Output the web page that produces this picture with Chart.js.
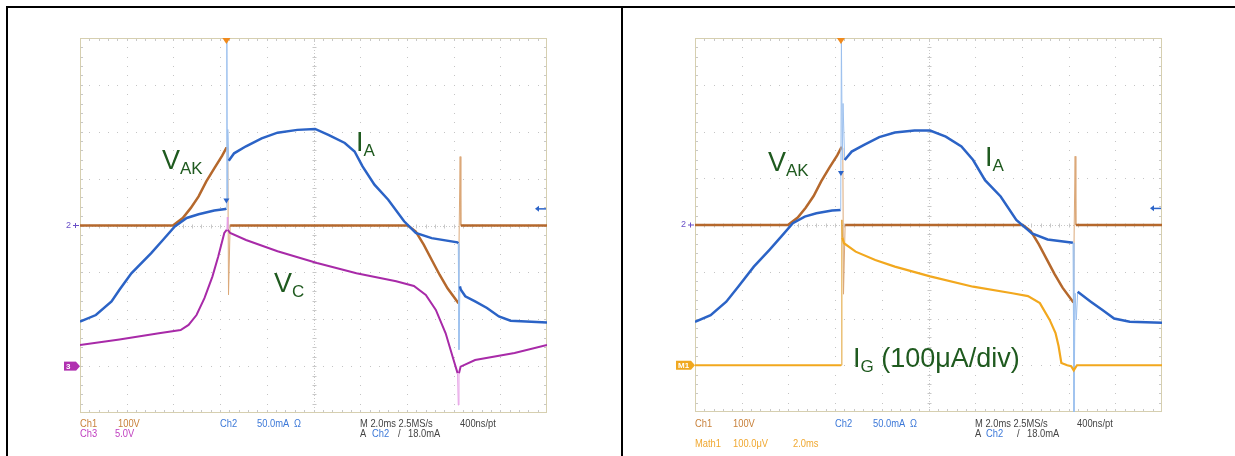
<!DOCTYPE html>
<html lang="en">
<head>
<meta charset="UTF-8">
<title>Thyristor waveforms</title>
<script src="https://cdn.jsdelivr.net/npm/chart.js"></script>
<style>
  body { margin:0; width:1235px; height:456px; position:relative; overflow:hidden; background:#fff;
         font-family:"Liberation Sans", Arial, sans-serif; }
  .rule { position:absolute; background:#000; }
  canvas { position:absolute; }
  .lbl { position:absolute; font-size:27px; line-height:27px; color:#1f5a1f; white-space:nowrap; }
  .lbl .sub { font-size:17px; position:relative; top:5px; }
  .ro { position:absolute; font-size:11px; line-height:11px; white-space:nowrap;
        transform:scaleX(0.85); transform-origin:left; color:#444; }
  .c1 { color:#c8803a; } .c2 { color:#3c78d8; } .c3 { color:#c040c0; } .m1 { color:#f0a830; }
</style>
</head>
<body>
<div class="rule" style="left:6px; top:6px; width:1229px; height:2px"></div>
<div class="rule" style="left:6px; top:6px; width:2px; height:450px"></div>
<div class="rule" style="left:621px; top:6px; width:2px; height:450px"></div>

<canvas id="scopeLeft" width="500" height="390" style="left:60px; top:30px"></canvas>
<canvas id="scopeRight" width="500" height="390" style="left:672px; top:30px"></canvas>

<!-- trace labels -->
<div class="lbl" style="left:162px; top:147px">V<span class="sub">AK</span></div>
<div class="lbl" style="left:356px; top:129px">I<span class="sub">A</span></div>
<div class="lbl" style="left:274px; top:270px">V<span class="sub">C</span></div>
<div class="lbl" style="left:768px; top:149px">V<span class="sub">AK</span></div>
<div class="lbl" style="left:985px; top:144px">I<span class="sub">A</span></div>
<div class="lbl" style="left:853px; top:345px">I<span class="sub">G</span> (100μA/div)</div>

<!-- scope readouts, left -->
<span class="ro c1" style="left:80px; top:418px">Ch1</span>
<span class="ro c1" style="left:118px; top:418px">100V</span>
<span class="ro c2" style="left:220px; top:418px">Ch2</span>
<span class="ro c2" style="left:257px; top:418px">50.0mA &nbsp;Ω</span>
<span class="ro" style="left:360px; top:418px">M 2.0ms 2.5MS/s</span>
<span class="ro" style="left:460px; top:418px">400ns/pt</span>
<span class="ro c3" style="left:80px; top:428px">Ch3</span>
<span class="ro c3" style="left:115px; top:428px">5.0V</span>
<span class="ro" style="left:360px; top:428px">A</span>
<span class="ro c2" style="left:372px; top:428px">Ch2</span>
<span class="ro" style="left:398px; top:428px">/</span>
<span class="ro" style="left:408px; top:428px">18.0mA</span>

<!-- scope readouts, right -->
<span class="ro c1" style="left:695px; top:418px">Ch1</span>
<span class="ro c1" style="left:733px; top:418px">100V</span>
<span class="ro c2" style="left:835px; top:418px">Ch2</span>
<span class="ro c2" style="left:873px; top:418px">50.0mA &nbsp;Ω</span>
<span class="ro" style="left:975px; top:418px">M 2.0ms 2.5MS/s</span>
<span class="ro" style="left:1077px; top:418px">400ns/pt</span>
<span class="ro" style="left:975px; top:428px">A</span>
<span class="ro c2" style="left:986px; top:428px">Ch2</span>
<span class="ro" style="left:1017px; top:428px">/</span>
<span class="ro" style="left:1027px; top:428px">18.0mA</span>
<span class="ro m1" style="left:695px; top:438px">Math1</span>
<span class="ro m1" style="left:733px; top:438px">100.0μV</span>
<span class="ro m1" style="left:793px; top:438px">2.0ms</span>

<script>
    // time in ms (2 ms/div, 10 div), amplitude in screen divisions from the centre line

    // Ch1  V_AK (same capture shape in both shots)
    const vakTime  = [0, 3.98, 4.40, 4.74, 5.08, 5.41, 5.75, 6.09, 6.26, 6.33, 6.36, 6.43,
                      14.04, 14.38, 14.72, 15.06, 15.40, 15.74, 16.21, 16.24, 16.28, 16.31, 16.36, 20];
    const vakLevel = [0, 0, 0.16, 0.37, 0.62, 0.94, 1.22, 1.49, 1.65, 1.65, -1.48, 0,
                      0, -0.13, -0.41, -0.73, -1.05, -1.34, -1.66, 0, 1.47, 0, 0, 0];

    // Ch2  I_A, left shot
    const iaTimeL  = [0, 0.68, 1.35, 1.69, 2.20, 3.05, 3.55, 4.06, 4.57, 5.08, 5.75, 6.23, 6.27, 6.29, 6.31,
                      6.33, 6.37, 6.60, 7.11, 7.78, 8.46, 9.31, 10.07, 10.66, 11.34, 11.76, 12.10, 12.61,
                      13.20, 13.88, 14.38, 15.06, 16.16, 16.20, 16.23, 16.27, 16.31, 16.50, 16.92, 17.43,
                      17.94, 18.44, 20];
    const iaLevelL = [-2.05, -1.91, -1.62, -1.37, -1.02, -0.59, -0.31, -0.02, 0.16, 0.24, 0.32, 0.35, 0.36, 3.96, 0.55,
                      2.05, 1.38, 1.54, 1.69, 1.86, 1.98, 2.04, 2.06, 1.93, 1.76, 1.58, 1.26, 0.87,
                      0.55, 0.09, -0.16, -0.27, -0.36, -0.38, -2.65, -1.30, -1.37, -1.51, -1.62, -1.76,
                      -1.94, -2.03, -2.07];

    // Ch2  I_A, right shot
    const iaTimeR  = [0, 0.67, 1.34, 1.85, 2.52, 3.19, 3.69, 4.19, 4.70, 5.20, 5.87, 6.24, 6.27, 6.31, 6.34,
                      6.41, 6.71, 7.22, 7.89, 8.56, 9.40, 10.07, 10.74, 11.41, 11.91, 12.42, 13.09, 13.76,
                      14.43, 15.10, 16.19, 16.23, 16.28, 16.33, 16.39, 16.95, 17.45, 17.95, 18.62, 20];
    const iaLevelR = [-2.07, -1.93, -1.64, -1.32, -0.89, -0.53, -0.25, 0.04, 0.18, 0.25, 0.31, 0.32, 4.0, 1.39, 2.60,
                      1.39, 1.57, 1.71, 1.88, 1.98, 2.02, 2.02, 1.89, 1.68, 1.39, 0.96, 0.61, 0.11,
                      -0.18, -0.31, -0.38, -4.0, -1.46, -2.03, -1.43, -1.64, -1.82, -2.0, -2.07, -2.09];

    // Ch3  V_C, left shot
    const vcTime  = [0, 1.69, 3.38, 4.31, 4.65, 4.99, 5.33, 5.67, 5.92, 6.18, 6.29, 6.31, 6.33, 6.43,
                     7.11, 8.46, 10.15, 11.84, 13.54, 14.30, 14.81, 15.24, 15.66, 16.00, 16.17, 16.20,
                     16.23, 16.30, 16.92, 18.61, 20];
    const vcLevel = [-2.55, -2.43, -2.30, -2.23, -2.12, -1.91, -1.55, -1.09, -0.66, -0.16, -0.09, 0.18, -0.09, -0.16,
                     -0.31, -0.55, -0.80, -1.02, -1.19, -1.29, -1.48, -1.80, -2.30, -2.87, -3.15, -3.83,
                     -3.15, -3.01, -2.87, -2.72, -2.55];

    // Math1  I_G, right shot
    const igTime  = [0, 6.26, 6.29, 6.31, 6.38, 6.88, 7.72, 8.56, 10.07, 11.91, 13.59, 14.26, 14.77,
                     15.19, 15.44, 15.57, 15.69, 15.94, 16.11, 16.22, 16.36, 20];
    const igLevel = [-3.0, -3.0, 0.11, -0.27, -0.39, -0.57, -0.75, -0.89, -1.10, -1.32, -1.46, -1.52, -1.67,
                     -2.03, -2.31, -2.59, -2.95, -3.0, -3.02, -3.11, -3.0, -3.0];

    function pts(t, v) {
        return t.map((x, i) => ({x: x, y: v[i]}));
    }

    // fast edges look faint and thin on the scope screen
    function trace(label, t, v, color, faint, width) {
        const steep = c => Math.abs(c.p1.parsed.x - c.p0.parsed.x) < 0.085 &&
                           Math.abs(c.p1.parsed.y - c.p0.parsed.y) > 0.25;
        return {
            label: label,
            data: pts(t, v),
            borderColor: color,
            borderWidth: width,
            pointRadius: 0,
            showLine: true,
            tension: 0,
            segment: {
                borderColor: c => steep(c) ? faint : undefined,
                borderWidth: c => steep(c) ? 1 : undefined
            }
        };
    }

    const graticule = {
        id: 'graticule',
        beforeDatasetsDraw(chart) {
            const {ctx, chartArea: a, scales: {x, y}} = chart;
            ctx.save();
            ctx.fillStyle = '#c4c4c4';
            for (let gx = 2; gx < 20; gx += 2) {
                if (gx === 10) continue;
                const px = Math.round(x.getPixelForValue(gx));
                for (let k = 1; k < 40; k++) ctx.fillRect(px, Math.round(y.getPixelForValue(-4 + k * 0.2)), 1, 1);
            }
            for (let gy = -3; gy <= 3; gy++) {
                if (gy === 0) continue;
                const py = Math.round(y.getPixelForValue(gy));
                for (let k = 1; k < 50; k++) ctx.fillRect(Math.round(x.getPixelForValue(k * 0.4)), py, 1, 1);
            }
            // centre lines with minor ticks
            ctx.strokeStyle = '#c8c8c8';
            ctx.lineWidth = 1;
            const cx = Math.round(x.getPixelForValue(10)) + 0.5;
            const cy = Math.round(y.getPixelForValue(0)) + 0.5;
            ctx.beginPath();
            for (let k = 1; k < 50; k++) {
                const px = Math.round(x.getPixelForValue(k * 0.4)) + 0.5;
                ctx.moveTo(px, cy - 2); ctx.lineTo(px, cy + 2);
                ctx.moveTo(px, a.bottom); ctx.lineTo(px, a.bottom - 3);
                ctx.moveTo(px, a.top); ctx.lineTo(px, a.top + 3);
            }
            for (let k = 1; k < 40; k++) {
                const py = Math.round(y.getPixelForValue(-4 + k * 0.2)) + 0.5;
                ctx.moveTo(cx - 2, py); ctx.lineTo(cx + 2, py);
                ctx.moveTo(a.left, py); ctx.lineTo(a.left + 3, py);
                ctx.moveTo(a.right, py); ctx.lineTo(a.right - 3, py);
            }
            ctx.stroke();
            ctx.setLineDash([1, 2]);
            ctx.beginPath();
            ctx.moveTo(cx, a.top); ctx.lineTo(cx, a.bottom);
            ctx.moveTo(a.left, cy); ctx.lineTo(a.right, cy);
            ctx.stroke();
            ctx.setLineDash([]);
            ctx.strokeStyle = '#d6cfb0';
            ctx.strokeRect(a.left + 0.5, a.top + 0.5, a.width - 1, a.height - 1);
            ctx.restore();
        }
    };

    const scopeMarks = {
        id: 'scopeMarks',
        afterDatasetsDraw(chart, args, o) {
            const {ctx, chartArea: a, scales: {x, y}} = chart;
            ctx.save();
            // Ch2 ground marker
            const y0 = y.getPixelForValue(0);
            ctx.fillStyle = '#6a50c8';
            ctx.font = '9px "Liberation Sans", Arial';
            ctx.textBaseline = 'middle';
            ctx.fillText('2', a.left - 14, y0);
            ctx.fillRect(a.left - 7, y0 - 0.5, 6, 1);
            ctx.fillRect(a.left - 5, y0 - 2.5, 1, 5);
            // channel tag
            const yt = y.getPixelForValue(o.tagLevel);
            ctx.fillStyle = o.tagColor;
            ctx.fillRect(a.left - o.tagWidth - 4, yt - 4.5, o.tagWidth, 9);
            ctx.beginPath();
            ctx.moveTo(a.left - 4, yt - 4.5); ctx.lineTo(a.left, yt); ctx.lineTo(a.left - 4, yt + 4.5);
            ctx.fill();
            ctx.fillStyle = '#fff';
            ctx.font = 'bold 8px "Liberation Sans", Arial';
            ctx.fillText(o.tagText, a.left - o.tagWidth - 2, yt + 0.5);
            // trigger position
            const tx = x.getPixelForValue(o.trigger);
            ctx.fillStyle = '#f08a1c';
            ctx.beginPath();
            ctx.moveTo(tx - 4, a.top); ctx.lineTo(tx + 4, a.top); ctx.lineTo(tx, a.top + 6);
            ctx.fill();
            // trigger level
            const ty = y.getPixelForValue(o.trigLevel);
            ctx.fillStyle = '#2c64c8';
            ctx.beginPath();
            ctx.moveTo(tx - 3, ty - 3); ctx.lineTo(tx + 3, ty - 3); ctx.lineTo(tx, ty + 2);
            ctx.fill();
            // reference arrow
            const ry = y.getPixelForValue(o.arrowLevel);
            ctx.fillRect(a.right - 9, ry - 0.5, 8, 1.5);
            ctx.beginPath();
            ctx.moveTo(a.right - 12, ry); ctx.lineTo(a.right - 8, ry - 3); ctx.lineTo(a.right - 8, ry + 3);
            ctx.fill();
            ctx.restore();
        }
    };

    function makeScope(id, datasets, padding, marks) {
        const ctx = document.getElementById(id).getContext('2d');
        return new Chart(ctx, {
            type: 'scatter',
            data: {datasets: datasets},
            options: {
                responsive: false,
                animation: false,
                layout: {padding: padding},
                scales: {
                    x: {type: 'linear', min: 0, max: 20, display: false},
                    y: {type: 'linear', min: -4, max: 4, display: false}
                },
                plugins: {
                    legend: {display: false},
                    tooltip: {enabled: false},
                    scopeMarks: marks
                }
            },
            plugins: [graticule, scopeMarks]
        });
    }

    const blue = '#2b63c6', blueFaint = '#9cc0ee';
    const brown = '#b5682c', brownFaint = '#dba878';
    const magenta = '#a82aa8', magentaFaint = '#e6a0e6';
    const orange = '#f2a81e', orangeFaint = '#e0a030';

    makeScope('scopeLeft', [
        trace('I_A', iaTimeL, iaLevelL, blue, blueFaint, 2.5),
        trace('V_C', vcTime, vcLevel, magenta, magentaFaint, 2),
        trace('V_AK', vakTime, vakLevel, brown, brownFaint, 2.5)
    ], {left: 20, top: 8, right: 13, bottom: 7},
       {trigger: 6.27, trigLevel: 0.51, arrowLevel: 0.36, tagLevel: -3, tagText: '3', tagColor: '#b030b0', tagWidth: 12});

    makeScope('scopeRight', [
        trace('I_G', igTime, igLevel, orange, orangeFaint, 2.2),
        trace('I_A', iaTimeR, iaLevelR, blue, blueFaint, 2.5),
        trace('V_AK', vakTime, vakLevel, brown, brownFaint, 2.5)
    ], {left: 23, top: 8, right: 10, bottom: 8},
       {trigger: 6.25, trigLevel: 1.09, arrowLevel: 0.36, tagLevel: -3, tagText: 'M1', tagColor: '#f0a820', tagWidth: 15});
</script>
</body>
</html>
